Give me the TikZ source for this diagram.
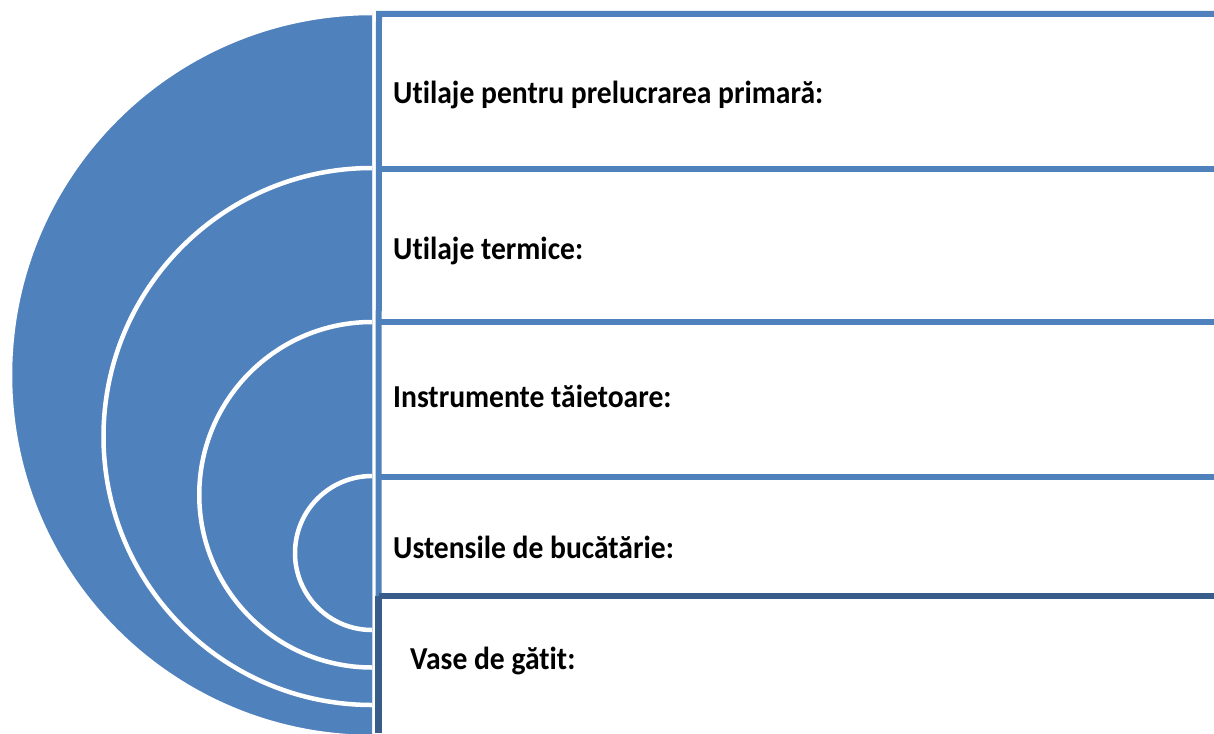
\documentclass[tikz,border=0pt]{standalone}
\usepackage{fontspec}
\setmainfont{Carlito}[Ligatures=NoCommon]
\definecolor{accent}{HTML}{4F81BD}
\definecolor{accentdark}{HTML}{385D8A}
\newcommand{\tallbox}[1]{\scalebox{1}[1.08]{#1}}
\begin{document}
\begin{tikzpicture}[x=1pt,y=-1pt,
  ring/.style={fill=accent,draw=white,line width=4.5pt},
  rowline/.style={draw=accent,line width=6pt},
  darkline/.style={draw=accentdark,line width=6.5pt},
  lbl/.style={anchor=base west,inner sep=0pt,font=\bfseries\fontsize{29.6}{34}\selectfont,text=black}]
\useasboundingbox (0,0) rectangle (1214,733);
\begin{scope}
  \clip (0,0) rectangle (372,733);
  \path[ring] (372,375) circle[radius=362];
  \path[ring] (372,436.5) circle[radius=268.5];
  \path[ring] (372,494.75) circle[radius=172.75];
  \path[ring] (372,553) circle[radius=77];
\end{scope}
% row separators
\coordinate (t0) at (379,14);
\coordinate (t1) at (379,169);
\coordinate (t2) at (379,322);
\coordinate (t3) at (379,477);
\coordinate (t4) at (378.5,593);
\coordinate (e0) at (1214,14);
\coordinate (e1) at (1214,169);
\coordinate (e2) at (1214,322);
\coordinate (e3) at (1214,477);
\coordinate (e4) at (1214,593);
\coordinate (b4) at (378.5,733);
\draw[rowline,line cap=rect] (t4) -- (t0) -- (e0);
\draw[rowline] (t1) -- (e1);
\draw[rowline] (t2) -- (e2);
\draw[rowline] (t3) -- (e3);
\draw[darkline] ([yshift=-3pt]t4) -- ([yshift=-3pt]e4);
\draw[darkline] (b4) -- ([yshift=-3pt]t4);
\node[lbl] (l1) at (393,103) {\tallbox{Utilaje pentru prelucrarea primară:}};
\node[lbl] (l2) at (393,259) {\tallbox{Utilaje termice:}};
\node[lbl] (l3) at (393,407) {\tallbox{Instrumente tăietoare:}};
\node[lbl] (l4) at (393,558) {\tallbox{Ustensile de bucătărie:}};
\node[lbl] (l5) at (410,669) {\tallbox{Vase de gătit:}};
\end{tikzpicture}
\end{document}
